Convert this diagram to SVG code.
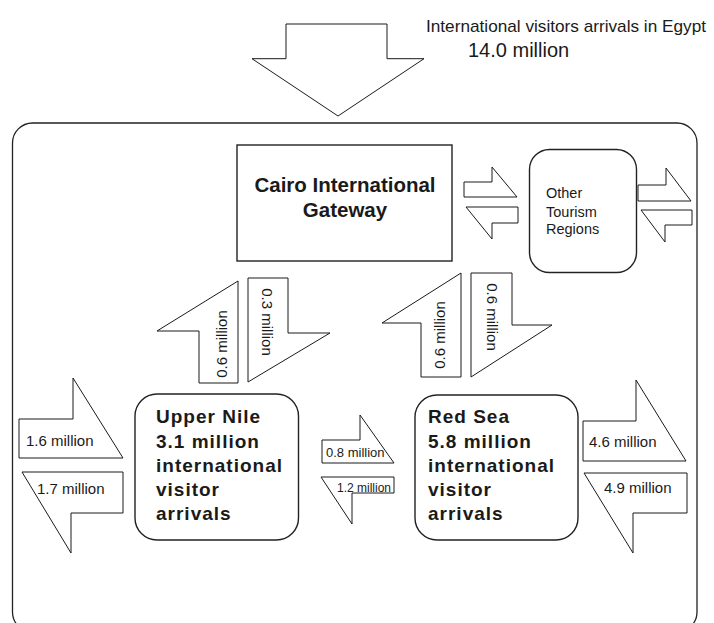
<svg xmlns="http://www.w3.org/2000/svg" width="714" height="623" viewBox="0 0 714 623">
  <style>
    .frame { fill: #ffffff; stroke: #222222; stroke-width: 1.3; }
    .box { fill: #ffffff; stroke: #222222; stroke-width: 1.4; }
    .arrow { fill: #ffffff; stroke: #1a1a1a; stroke-width: 1; stroke-linejoin: miter; }
    .t { font-family: "Liberation Sans", Arial, sans-serif; fill: #1a1a1a; }
    .big { font-weight: bold; font-size: 19px; letter-spacing: 1px; }
    .gate { font-weight: bold; font-size: 20.5px; text-anchor: middle; }
    .small { font-size: 15px; }
    .rot { font-size: 15px; text-anchor: middle; }
  </style>

  <rect width="714" height="623" fill="#ffffff"/>

  <!-- national total flowing in from the top -->
  <g id="egypt-arrivals">
    <polygon class="arrow" points="286,24 387,24 387,58.7 424,58.7 338,116 252,58.7 286,58.7"/>
    <text class="t" x="426" y="31.5" font-size="17" textLength="280" lengthAdjust="spacingAndGlyphs">International visitors arrivals in Egypt</text>
    <text class="t" x="468" y="57" font-size="20">14.0 million</text>
  </g>

  <!-- outer boundary: Egypt -->
  <g id="egypt">
    <rect class="frame" x="12.5" y="123" width="684.5" height="509" rx="20"/>
  </g>

  <g id="cairo">
    <rect class="box" x="237" y="145" width="215" height="116"/>
    <text class="t gate" x="345" y="192">Cairo International</text>
    <text class="t gate" x="345" y="217">Gateway</text>
  </g>

  <g id="other-regions">
    <rect class="box" x="529.5" y="149.5" width="107" height="123" rx="20"/>
    <text class="t" x="546" y="198" font-size="14.5">Other</text>
    <text class="t" x="546" y="216.5" font-size="14.5">Tourism</text>
    <text class="t" x="546" y="234" font-size="14.5">Regions</text>
  </g>

  <g id="upper-nile">
    <rect class="box" x="135" y="394" width="163.5" height="146" rx="22"/>
    <text class="t big" x="156" y="423">Upper Nile</text>
    <text class="t big" x="156" y="447.5">3.1 million</text>
    <text class="t big" x="156" y="471.5">international</text>
    <text class="t big" x="156" y="495.5">visitor</text>
    <text class="t big" x="156" y="519.5">arrivals</text>
  </g>

  <g id="red-sea">
    <rect class="box" x="415" y="395" width="163" height="145" rx="22"/>
    <text class="t big" x="428" y="423">Red Sea</text>
    <text class="t big" x="428" y="447.5">5.8 million</text>
    <text class="t big" x="428" y="471.5">international</text>
    <text class="t big" x="428" y="495.5">visitor</text>
    <text class="t big" x="428" y="519.5">arrivals</text>
  </g>

  <!-- flow arrows between regions -->
  <g id="connectors">
    <!-- Cairo <-> Other Tourism Regions -->
    <polygon class="arrow" points="464,182 492,182 492,167 517,197 464,197"/>
    <polygon class="arrow" points="466,207 518,207 518,223 492,223 492,239"/>
    <!-- Other Tourism Regions <-> outside -->
    <polygon class="arrow" points="638,185 666,185 666,168 691,201 638,201"/>
    <polygon class="arrow" points="641,210 692,210 692,225 665,225 665,242"/>

    <!-- Upper Nile <-> Cairo -->
    <polygon class="arrow" points="199,383 238,383 238,281 157,331 199,331"/>
    <text class="t rot" transform="translate(227,344) rotate(-90)">0.6 million</text>
    <polygon class="arrow" points="248,278 288,278 288,333 330,333 248,382"/>
    <text class="t rot" transform="translate(261.5,322) rotate(90)">0.3 million</text>

    <!-- Red Sea <-> Cairo -->
    <polygon class="arrow" points="421,377 461,377 461,273 382,323 421,323"/>
    <text class="t rot" transform="translate(445,335) rotate(-90)">0.6 million</text>
    <polygon class="arrow" points="471,273 512,273 512,325 552,325 471,377"/>
    <text class="t rot" transform="translate(486.5,317) rotate(90)">0.6 million</text>

    <!-- Upper Nile <-> outside -->
    <polygon class="arrow" points="19,419 73,419 73,378 123,458 19,458"/>
    <text class="t small" x="26" y="446">1.6 million</text>
    <polygon class="arrow" points="22,472 123,472 123,513 71,513 71,553"/>
    <text class="t small" x="37" y="494">1.7 million</text>

    <!-- Upper Nile <-> Red Sea -->
    <polygon class="arrow" points="322,440 360,440 360,415 394,463 322,463"/>
    <text class="t" x="326" y="457" font-size="13">0.8 million</text>
    <polygon class="arrow" points="321,477 394,477 394,493 352,493 352,524"/>
    <text class="t" x="337" y="491.5" font-size="12">1.2 million</text>

    <!-- Red Sea <-> outside -->
    <polygon class="arrow" points="583,421 636,421 636,380 686,461 583,461"/>
    <text class="t small" x="589" y="447" font-size="15.5">4.6 million</text>
    <polygon class="arrow" points="584,473 687,473 687,513 633,513 633,553"/>
    <text class="t small" x="604" y="493" font-size="15.5">4.9 million</text>
  </g>
</svg>
